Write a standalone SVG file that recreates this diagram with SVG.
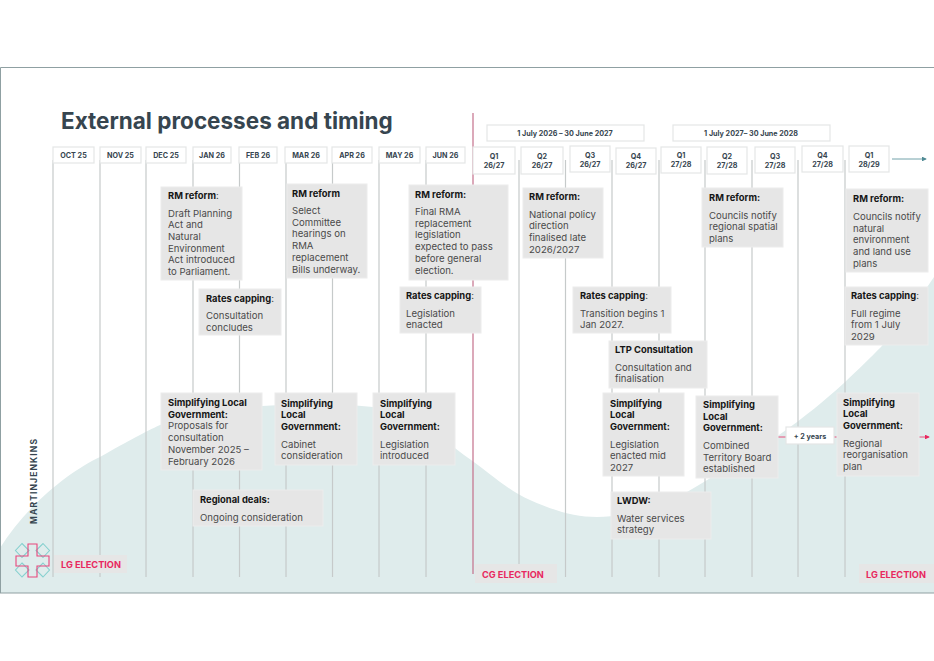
<svg xmlns="http://www.w3.org/2000/svg" width="934" height="661" viewBox="0 0 934 661">
<style>
text{font-family:"Inter","Liberation Sans",sans-serif}
.b{fill:#e6e6e6;stroke:#ececec;stroke-width:1}
.h{fill:#fff;stroke:#e4e6e6;stroke-width:1.2}
.m{font-size:7.200px;font-weight:700;fill:#36454f;text-anchor:middle}
.t{font-size:9.400px;font-weight:700;fill:#151515}
.d{font-size:9.600px;font-weight:400;fill:#4a4a4a}
.e{font-size:9.200px;font-weight:700;fill:#e8295f}
.l{stroke:#c6caca;stroke-width:1.200;fill:none}
</style>
<defs>
<marker id="ta" markerWidth="6" markerHeight="6" refX="5" refY="3" orient="auto"><path d="M0 0L6 3L0 6Z" fill="#4f8a94"/></marker>
<marker id="ra" markerWidth="6" markerHeight="6" refX="5" refY="3" orient="auto"><path d="M0 0L6 3L0 6Z" fill="#e8295f"/></marker>
</defs>
<rect width="934" height="661" fill="#fff"/>
<path id="wave" d="M0 548C28 503 72 470 100 457C130 440 145 432 160 425C200 410 235 406 262 406C300 404 335 403 373 407C415 412 440 437 464 455C490 473 510 492 530 500C555 511 575 517 597 517C630 517 660 506 687 492C715 475 745 458 779 435C805 417 825 400 844 383C860 368 870 358 881 347C900 325 915 305 934 277V593H0Z" fill="#dfecec"/>
<path id="frame" d="M0.500 593V67.500H934M0 593H934" fill="none" stroke="#8fa0a2" stroke-width="1"/>
<g id="connectors">
<path class="l" d="M53 160V577M100 160V577M146 160V577M193 160V577M239.500 160V577M286 160V577M332.500 160V577M379 160V577M426 160V577M519 160V577M565.500 160V577M612 160V577M659 160V577M705 160V577M752 160V577M798 160V577M845 160V577"/>
<path d="M473 113V574" stroke="#c4708b" stroke-width="1.200" fill="none"/>
<path d="M892 159H926" stroke="#4f8a94" stroke-width="0.800" fill="none" marker-end="url(#ta)"/>
<path d="M778 437H786M834 437H837" stroke="#e8295f" stroke-width="0.800" fill="none"/>
<path d="M919 437H929" stroke="#e8295f" stroke-width="0.800" fill="none" marker-end="url(#ra)"/>
</g>
<text id="title" x="61" y="129" font-size="22.500" font-weight="700" fill="#36454f">External processes and timing</text>
<g id="months">
<g id="oct25"><rect class="h" x="53" y="147" width="41" height="16"/><text class="m" x="73.500" y="158">OCT 25</text></g>
<g id="nov25"><rect class="h" x="100" y="147" width="41" height="16"/><text class="m" x="120.500" y="158">NOV 25</text></g>
<g id="dec25"><rect class="h" x="146" y="147" width="40" height="16"/><text class="m" x="166" y="158">DEC 25</text></g>
<g id="jan26"><rect class="h" x="193" y="147" width="38" height="16"/><text class="m" x="212" y="158">JAN 26</text></g>
<g id="feb26"><rect class="h" x="239" y="147" width="38" height="16"/><text class="m" x="258" y="158">FEB 26</text></g>
<g id="mar26"><rect class="h" x="285" y="147" width="42" height="16"/><text class="m" x="306" y="158">MAR 26</text></g>
<g id="apr26"><rect class="h" x="332" y="147" width="40" height="16"/><text class="m" x="352" y="158">APR 26</text></g>
<g id="may26"><rect class="h" x="379" y="147" width="41" height="16"/><text class="m" x="399.500" y="158">MAY 26</text></g>
<g id="jun26"><rect class="h" x="426" y="147" width="39" height="16"/><text class="m" x="445.500" y="158">JUN 26</text></g>
</g>
<g id="ranges">
<g id="fy2627"><rect class="h" x="487" y="125" width="157" height="16"/><text class="m" x="565" y="136">1 July 2026 – 30 June 2027</text></g>
<g id="fy2728"><rect class="h" x="673" y="125" width="157" height="16"/><text class="m" x="751" y="136">1 July 2027– 30 June 2028</text></g>
</g>
<g id="quarters">
<g id="q1a"><rect class="h" x="473" y="147" width="42" height="27"/><text class="m" x="494" y="159">Q1</text><text class="m" x="494" y="168">26/27</text></g>
<g id="q2a"><rect class="h" x="521" y="147" width="42" height="27"/><text class="m" x="542" y="159">Q2</text><text class="m" x="542" y="168">26/27</text></g>
<g id="q3a"><rect class="h" x="570" y="146" width="40" height="26"/><text class="m" x="590" y="158">Q3</text><text class="m" x="590" y="167">26/27</text></g>
<g id="q4a"><rect class="h" x="616" y="148" width="40" height="26"/><text class="m" x="636" y="159">Q4</text><text class="m" x="636" y="168">26/27</text></g>
<g id="q1b"><rect class="h" x="661" y="147" width="40" height="26"/><text class="m" x="681" y="158">Q1</text><text class="m" x="681" y="167">27/28</text></g>
<g id="q2b"><rect class="h" x="707" y="147" width="40" height="27"/><text class="m" x="727" y="159">Q2</text><text class="m" x="727" y="168">27/28</text></g>
<g id="q3b"><rect class="h" x="755" y="147" width="40" height="26"/><text class="m" x="775" y="159">Q3</text><text class="m" x="775" y="168">27/28</text></g>
<g id="q4b"><rect class="h" x="802" y="146" width="41" height="26"/><text class="m" x="822.500" y="158">Q4</text><text class="m" x="822.500" y="167">27/28</text></g>
<g id="q1c"><rect class="h" x="849" y="146" width="40" height="26"/><text class="m" x="869" y="158">Q1</text><text class="m" x="869" y="167">28/29</text></g>
</g>
<g id="rm1"><rect class="b" x="161" y="187" width="81" height="93"/><text class="t" x="168" y="199">RM reform<tspan class="d">:</tspan></text><text class="d" x="168"><tspan x="168" y="216.500">Draft Planning</tspan><tspan x="168" y="228.200">Act and</tspan><tspan x="168" y="239.900">Natural</tspan><tspan x="168" y="251.600">Environment</tspan><tspan x="168" y="263.300">Act introduced</tspan><tspan x="168" y="275">to Parliament.</tspan></text></g>
<g id="rates1"><rect class="b" x="199" y="289" width="82" height="46"/><text class="t" x="206" y="302">Rates capping<tspan class="d">:</tspan></text><text class="d"><tspan x="206" y="319">Consultation</tspan><tspan x="206" y="330.700">concludes</tspan></text></g>
<g id="rm2"><rect class="b" x="287" y="184" width="80" height="94"/><text class="t" x="292" y="197">RM reform</text><text class="d"><tspan x="292" y="214">Select</tspan><tspan x="292" y="225.700">Committee</tspan><tspan x="292" y="237.400">hearings on</tspan><tspan x="292" y="249.100">RMA</tspan><tspan x="292" y="260.800">replacement</tspan><tspan x="292" y="272.500">Bills underway.</tspan></text></g>
<g id="rm3"><rect class="b" x="409" y="185" width="99" height="95"/><text class="t" x="415" y="198">RM reform:</text><text class="d"><tspan x="415" y="215">Final RMA</tspan><tspan x="415" y="226.700">replacement</tspan><tspan x="415" y="238.400">legislation</tspan><tspan x="415" y="250.100">expected to pass</tspan><tspan x="415" y="261.800">before general</tspan><tspan x="415" y="273.500">election.</tspan></text></g>
<g id="rates3"><rect class="b" x="400" y="287" width="81" height="46"/><text class="t" x="406" y="299">Rates capping<tspan class="d">:</tspan></text><text class="d"><tspan x="406" y="316.500">Legislation</tspan><tspan x="406" y="328.200">enacted</tspan></text></g>
<g id="rm4"><rect class="b" x="523" y="188" width="80" height="70"/><text class="t" x="529" y="200">RM reform:</text><text class="d"><tspan x="529" y="217.500">National policy</tspan><tspan x="529" y="229.200">direction</tspan><tspan x="529" y="240.900">finalised late</tspan><tspan x="529" y="252.600">2026/2027</tspan></text></g>
<g id="rates4"><rect class="b" x="573" y="287" width="98" height="46"/><text class="t" x="580" y="299">Rates capping<tspan class="d">:</tspan></text><text class="d"><tspan x="580" y="316.500">Transition begins 1</tspan><tspan x="580" y="328.200">Jan 2027.</tspan></text></g>
<g id="rm5"><rect class="b" x="702" y="188" width="81" height="59"/><text class="t" x="709" y="201">RM reform:</text><text class="d"><tspan x="709" y="218.500">Councils notify</tspan><tspan x="709" y="230.200">regional spatial</tspan><tspan x="709" y="241.900">plans</tspan></text></g>
<g id="rm6"><rect class="b" x="846" y="189" width="82" height="83"/><text class="t" x="853" y="202">RM reform:</text><text class="d"><tspan x="853" y="220">Councils notify</tspan><tspan x="853" y="231.700">natural</tspan><tspan x="853" y="243.400">environment</tspan><tspan x="853" y="255.100">and land use</tspan><tspan x="853" y="266.800">plans</tspan></text></g>
<g id="rates6"><rect class="b" x="845" y="287" width="83" height="58"/><text class="t" x="851" y="299">Rates capping<tspan class="d">:</tspan></text><text class="d"><tspan x="851" y="316.500">Full regime</tspan><tspan x="851" y="328.200">from 1 July</tspan><tspan x="851" y="339.900">2029</tspan></text></g>
<g id="ltp"><rect class="b" x="609" y="341" width="98" height="47"/><text class="t" x="615" y="353">LTP Consultation</text><text class="d"><tspan x="615" y="370.500">Consultation and</tspan><tspan x="615" y="382.200">finalisation</tspan></text></g>
<g id="slg1"><rect class="b" x="161" y="393" width="101" height="77"/><text class="t"><tspan x="168" y="406">Simplifying Local</tspan><tspan x="168" y="417.700">Government:</tspan></text><text class="d"><tspan x="168" y="429.400">Proposals for</tspan><tspan x="168" y="441.100">consultation</tspan><tspan x="168" y="452.800">November 2025 –</tspan><tspan x="168" y="464.500">February 2026</tspan></text></g>
<g id="slg2"><rect class="b" x="275" y="393" width="82" height="72"/><text class="t"><tspan x="281" y="406.500">Simplifying</tspan><tspan x="281" y="418.200">Local</tspan><tspan x="281" y="429.900">Government:</tspan></text><text class="d"><tspan x="281" y="447.500">Cabinet</tspan><tspan x="281" y="459.200">consideration</tspan></text></g>
<g id="slg3"><rect class="b" x="373" y="393" width="82" height="72"/><text class="t"><tspan x="380" y="406.500">Simplifying</tspan><tspan x="380" y="418.200">Local</tspan><tspan x="380" y="429.900">Government:</tspan></text><text class="d"><tspan x="380" y="447.500">Legislation</tspan><tspan x="380" y="459.200">introduced</tspan></text></g>
<g id="regional"><rect class="b" x="193" y="490" width="130" height="36"/><text class="t" x="200" y="503">Regional deals:</text><text class="d" x="200" y="520.500">Ongoing consideration</text></g>
<g id="slg4"><rect class="b" x="603" y="393" width="81" height="83"/><text class="t"><tspan x="610" y="406.500">Simplifying</tspan><tspan x="610" y="418.200">Local</tspan><tspan x="610" y="429.900">Government:</tspan></text><text class="d"><tspan x="610" y="447.500">Legislation</tspan><tspan x="610" y="459.200">enacted mid</tspan><tspan x="610" y="470.900">2027</tspan></text></g>
<g id="slg5"><rect class="b" x="696" y="396" width="82" height="82"/><text class="t"><tspan x="703" y="408">Simplifying</tspan><tspan x="703" y="419.700">Local</tspan><tspan x="703" y="431.400">Government:</tspan></text><text class="d"><tspan x="703" y="449">Combined</tspan><tspan x="703" y="460.700">Territory Board</tspan><tspan x="703" y="472.400">established</tspan></text></g>
<g id="slg6"><rect class="b" x="837" y="393" width="82" height="83"/><text class="t"><tspan x="843" y="405.500">Simplifying</tspan><tspan x="843" y="417.200">Local</tspan><tspan x="843" y="428.900">Government:</tspan></text><text class="d"><tspan x="843" y="446.500">Regional</tspan><tspan x="843" y="458.200">reorganisation</tspan><tspan x="843" y="469.900">plan</tspan></text></g>
<g id="lwdw"><rect class="b" x="611" y="492" width="100" height="47"/><text class="t" x="617" y="504">LWDW:</text><text class="d"><tspan x="617" y="521.500">Water services</tspan><tspan x="617" y="533.200">strategy</tspan></text></g>
<g id="plus2"><rect class="h" x="786" y="427" width="48" height="17"/><text class="m" x="810" y="439">+ 2 years</text></g>
<g id="lg1"><rect x="54" y="555" width="73" height="18" fill="#e6e6e6"/><text class="e" x="61" y="568">LG ELECTION</text></g>
<g id="cg"><rect x="475" y="564" width="82" height="19" fill="#e6e6e6"/><text class="e" x="482" y="577.500">CG ELECTION</text></g>
<g id="lg2"><rect x="859" y="564" width="75" height="19" fill="#e6e6e6"/><text class="e" x="866" y="577.500">LG ELECTION</text></g>
<text id="brand" transform="translate(37 524) rotate(-90)" font-size="8.500" font-weight="700" fill="#36454f" textLength="85">MARTINJENKINS</text>
<g id="logo" fill="none" stroke-width="1.100">
<path d="M22 543.500L29 550.500L22 557.500L15.500 550.500ZM43 543.500L49.500 550.500L43 557.500L36 550.500ZM22 563L29 570L22 577L15.500 570ZM43 563L49.500 570L43 577L36 570Z" stroke="#86d0cf"/>
<path d="M28 544H37V556H49V566H37V577H28V566H16V556H28Z" stroke="#e8467c"/>
</g>
</svg>
